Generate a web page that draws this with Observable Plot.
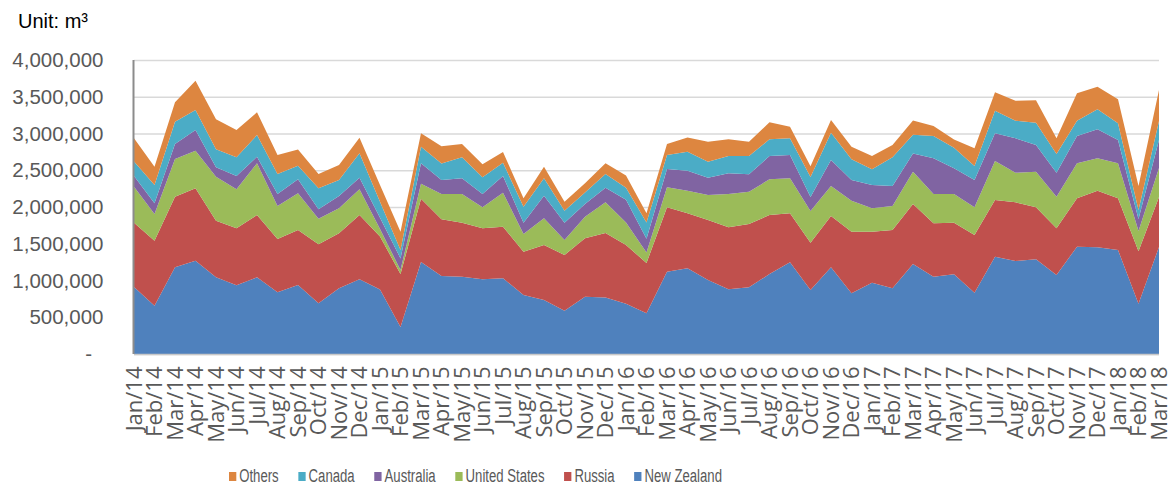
<!DOCTYPE html>
<html>
<head>
<meta charset="utf-8">
<script src="https://cdn.jsdelivr.net/npm/d3@7"></script>
<script src="https://cdn.jsdelivr.net/npm/@observablehq/plot@0.6"></script>
<style>
  html, body { margin: 0; padding: 0; background: #fff; }
  body { width: 1173px; height: 491px; overflow: hidden; font-family: "Liberation Sans", Arial, sans-serif; }
  #title { height: 38px; box-sizing: border-box; padding: 9px 0 0 18px; font-size: 20px; line-height: 24px; color: #000; }
  #chart svg { display: block; }
  #legend { height: 41px; position: relative; font-family: "Liberation Sans", Arial, sans-serif; font-size: 18px; color: #595959; }
  #legend .items { position: absolute; left: 229px; top: 16px; display: flex; align-items: center; transform: scaleX(0.73); transform-origin: 0 50%; white-space: nowrap; }
  #legend .item { display: flex; align-items: center; margin-right: 27px; }
  #legend .sw { width: 10px; height: 9px; margin-right: 4px; }
</style>
</head>
<body>
<div id="title">Unit: m³</div>
<div id="chart"></div>
<div id="legend"><div class="items"></div></div>
<script>
const months = ["Jan/14","Feb/14","Mar/14","Apr/14","May/14","Jun/14","Jul/14","Aug/14","Sep/14","Oct/14","Nov/14","Dec/14",
  "Jan/15","Feb/15","Mar/15","Apr/15","May/15","Jun/15","Jul/15","Aug/15","Sep/15","Oct/15","Nov/15","Dec/15",
  "Jan/16","Feb/16","Mar/16","Apr/16","May/16","Jun/16","Jul/16","Aug/16","Sep/16","Oct/16","Nov/16","Dec/16",
  "Jan/17","Feb/17","Mar/17","Apr/17","May/17","Jun/17","Jul/17","Aug/17","Sep/17","Oct/17","Nov/17","Dec/17",
  "Jan/18","Feb/18","Mar/18"];

const newZealand = [912000,657000,1180000,1269000,1043000,935000,1043000,839000,939000,690000,894000,1016000,
  878000,367000,1252000,1061000,1052000,1016000,1030000,803000,735000,589000,780000,769000,
  684000,554000,1120000,1166000,1007000,880000,907000,1088000,1248000,871000,1180000,826000,
  970000,894000,1224000,1052000,1084000,834000,1324000,1265000,1288000,1075000,1460000,1452000,
  1415000,684000,1456000];
const russia = [875000,884000,960000,985000,770000,775000,848000,725000,748000,803000,748000,875000,
  721000,721000,861000,771000,735000,694000,702000,589000,748000,758000,795000,878000,
  799000,684000,876000,748000,816000,844000,861000,803000,667000,644000,698000,838000,
  694000,793000,816000,727000,702000,785000,771000,799000,707000,635000,658000,770000,
  703000,714000,680000];
const unitedStates = [490000,363000,513000,512000,599000,531000,703000,449000,499000,348000,340000,350000,
  102000,54000,204000,344000,390000,286000,463000,241000,363000,204000,294000,419000,
  306000,143000,272000,307000,340000,453000,439000,486000,476000,429000,408000,422000,
  318000,327000,439000,399000,390000,377000,531000,403000,484000,430000,476000,441000,
  476000,275000,395000];
const australia = [146000,146000,204000,282000,128000,181000,90000,163000,190000,128000,167000,158000,
  154000,159000,278000,190000,214000,181000,227000,154000,307000,235000,173000,196000,
  310000,188000,249000,272000,235000,282000,237000,317000,317000,193000,354000,282000,
  317000,272000,250000,486000,350000,371000,377000,468000,363000,327000,371000,395000,
  317000,163000,381000];
const canada = [195000,249000,303000,272000,245000,254000,295000,272000,185000,286000,218000,332000,
  218000,113000,226000,227000,286000,227000,181000,218000,237000,163000,154000,188000,
  162000,220000,190000,258000,218000,235000,249000,227000,227000,272000,371000,282000,
  214000,390000,253000,303000,280000,190000,307000,239000,303000,254000,208000,272000,
  227000,122000,258000];
const others = [318000,249000,264000,399000,408000,371000,309000,258000,223000,195000,204000,212000,
  227000,249000,182000,235000,181000,177000,146000,114000,158000,122000,128000,146000,
  167000,125000,150000,196000,272000,227000,195000,231000,158000,146000,173000,171000,
  181000,167000,196000,136000,114000,241000,250000,272000,309000,214000,373000,307000,
  327000,327000,422000];

const seriesNames = ["New Zealand","Russia","United States","Australia","Canada","Others"];
const seriesValues = [newZealand, russia, unitedStates, australia, canada, others];
const seriesColors = ["#4F81BD","#C0504D","#9BBB59","#8064A2","#4BACC6","#DD8640"];
const yTicks = [0,500000,1000000,1500000,2000000,2500000,3000000,3500000,4000000];

const data = [];
seriesNames.forEach((name, s) => {
  seriesValues[s].forEach((v, i) => data.push({i, month: months[i], country: name, value: v}));
});

const fmt = d3.format(",");
const chart = Plot.plot({
  width: 1173,
  height: 412,
  marginLeft: 134,
  marginRight: 14,
  marginTop: 22,
  marginBottom: 96,
  style: {fontFamily: "'Liberation Sans', Arial, sans-serif", background: "#fff"},
  x: {type: "linear", domain: [0, months.length - 1]},
  y: {domain: [0, 4000000]},
  color: {domain: seriesNames, range: seriesColors},
  marks: [
    Plot.gridY(yTicks, {stroke: "#d9d9d9", strokeOpacity: 1, strokeWidth: 1.5}),
    Plot.areaY(data, {x: "i", y: "value", fill: "country", order: seriesNames}),
    Plot.ruleY([0], {stroke: "#c8c8c8", strokeWidth: 1.5}),
    Plot.ruleX([0], {stroke: "#8c8c8c", strokeWidth: 2, dx: -1}),
    Plot.axisY({ticks: yTicks, tickSize: 0, tickPadding: 31, fontSize: 20.5, fill: "#595959",
      tickFormat: d => d === 0 ? "-\u00a0\u00a0" : fmt(d), label: null}),
    Plot.axisX({ticks: d3.range(months.length), tickSize: 0, tickPadding: 12, tickRotate: -90,
      fontSize: 22, fontFamily: "'Open Sans', 'Noto Sans', sans-serif", fill: "#595959",
      tickFormat: i => months[i], label: null})
  ]
});
document.getElementById("chart").appendChild(chart);

const items = document.querySelector("#legend .items");
const legendOrder = [5,4,3,2,1,0];
legendOrder.forEach(k => {
  const it = document.createElement("div");
  it.className = "item";
  const sw = document.createElement("span");
  sw.className = "sw";
  sw.style.background = seriesColors[k];
  const tx = document.createElement("span");
  tx.textContent = seriesNames[k];
  it.appendChild(sw); it.appendChild(tx);
  items.appendChild(it);
});
</script>
</body>
</html>
